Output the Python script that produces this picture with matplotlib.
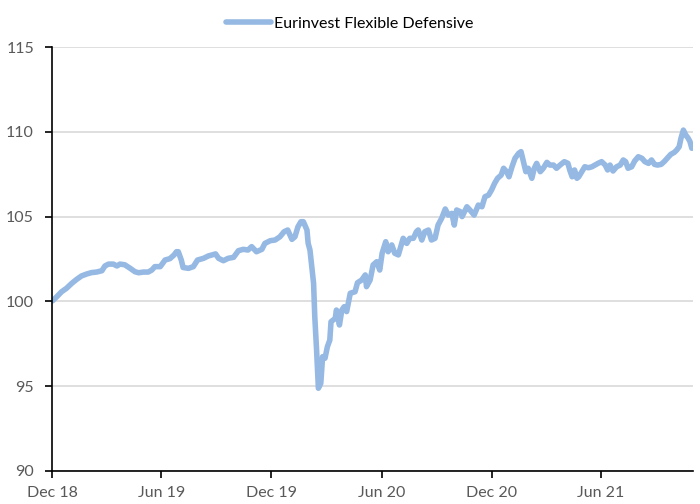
import matplotlib
matplotlib.use('Agg')
import matplotlib.pyplot as plt
import pandas as pd

# days after 1 Dec 2018
days = [1, 8, 16, 24, 33, 41, 49, 58, 66, 74, 83, 88, 94, 102, 108, 113, 121, 130, 138, 144,
        152, 160, 166, 171, 180, 188, 196, 203, 207, 210, 215, 218, 227, 235, 242, 252, 260, 266, 272, 277,
        285, 293, 302, 310, 318, 326, 332, 340, 349, 354, 363, 371, 379, 386, 392, 399, 404, 409, 414, 418,
        424, 426, 429, 432, 435, 437, 440, 443, 447, 450, 454, 458, 462, 464, 471, 473, 478, 482, 486, 490,
        496, 504, 508, 515, 521, 523, 529, 534, 540, 545, 549, 555, 559, 565, 570, 576, 580, 584, 590, 595,
        601, 606, 609, 615, 620, 626, 631, 637, 642, 648, 654, 659, 665, 669, 673, 679, 682, 690, 695, 702,
        709, 715, 720, 726, 731, 736, 741, 747, 751, 756, 760, 765, 770, 776, 780, 784, 788, 792, 798, 802,
        806, 812, 817, 823, 828, 834, 839, 845, 852, 858, 861, 865, 869, 873, 876, 881, 886, 892, 898, 903,
        908, 914, 920, 924, 928, 933, 939, 945, 950, 954, 958, 964, 969, 975, 981, 986, 992, 997, 1002, 1007,
        1013, 1018, 1024, 1029, 1035, 1039, 1043, 1046, 1050, 1054, 1058, 1061, 1064]

nav = [100.04, 100.28, 100.57, 100.77, 101.07, 101.30, 101.50, 101.62, 101.70, 101.73, 101.81, 102.09, 102.20, 102.20, 102.09, 102.20, 102.16, 101.95, 101.75, 101.69,
       101.73, 101.73, 101.85, 102.05, 102.05, 102.44, 102.52, 102.74, 102.93, 102.93, 102.44, 102.00, 101.95, 102.05, 102.44, 102.54, 102.68, 102.74, 102.80, 102.54,
       102.40, 102.54, 102.60, 102.99, 103.07, 103.03, 103.23, 102.93, 103.07, 103.42, 103.58, 103.62, 103.81, 104.11, 104.21, 103.66, 103.81, 104.40, 104.70, 104.70,
       104.21, 103.42, 103.03, 102.05, 101.07, 99.10, 97.13, 94.88, 95.17, 96.74, 96.65, 97.33, 97.72, 98.80, 99.00, 99.49, 98.61, 99.49, 99.69, 99.40,
       100.48, 100.57, 101.10, 101.26, 101.56, 100.87, 101.26, 102.15, 102.34, 101.85, 102.84, 103.52, 102.93, 103.33, 102.84, 102.74, 103.23, 103.72, 103.42, 103.72,
       103.72, 104.11, 104.21, 103.62, 104.11, 104.21, 103.62, 103.72, 104.50, 104.90, 105.45, 105.09, 105.19, 104.50, 105.39, 105.29, 105.00, 105.58, 105.39, 105.09,
       105.68, 105.58, 106.17, 106.27, 106.57, 106.96, 107.26, 107.45, 107.85, 107.65, 107.35, 107.94, 108.44, 108.73, 108.83, 108.24, 107.65, 107.85, 107.26, 107.85,
       108.14, 107.65, 107.85, 108.20, 108.04, 108.04, 107.85, 108.04, 108.24, 108.14, 107.75, 107.35, 107.75, 107.26, 107.35, 107.65, 107.94, 107.88, 107.94, 108.04,
       108.14, 108.24, 108.04, 107.75, 108.04, 107.69, 107.94, 108.04, 108.34, 108.24, 107.85, 107.94, 108.28, 108.53, 108.44, 108.24, 108.14, 108.34, 108.08, 108.04,
       108.08, 108.24, 108.47, 108.67, 108.79, 108.93, 109.12, 109.62, 110.10, 109.81, 109.62, 109.42, 109.03]

tick_dates = ["2018-12-01", "2019-06-01", "2019-12-01", "2020-06-01", "2020-12-01", "2021-06-01"]
tick_labels = ["Dec 18", "Jun 19", "Dec 19", "Jun 20", "Dec 20", "Jun 21"]
y_ticks = [90, 95, 100, 105, 110, 115]

plt.rcParams['font.family'] = ['Lato', 'DejaVu Sans']

start = pd.Timestamp("2018-12-01")
dates = start + pd.to_timedelta(days, unit="D")

fig = plt.figure(figsize=(7, 5.04), dpi=100)
ax = fig.add_axes([0.0743, 0.0655, 0.9157, 0.8412])

ax.plot(dates, nav, color="#95B9E3", lw=4.0, solid_capstyle="round",
        solid_joinstyle="round", label="Eurinvest Flexible Defensive")

ax.set_ylim(90, 115)
ax.set_yticks(y_ticks)
ax.set_xlim(start, pd.Timestamp("2021-11-01"))
ax.set_xticks(pd.to_datetime(tick_dates))
ax.set_xticklabels(tick_labels)

ax.grid(axis="y", color="#D9D9D9", lw=1.2)
ax.set_axisbelow(True)
for s in ["top", "right"]:
    ax.spines[s].set_visible(False)
for s in ["left", "bottom"]:
    ax.spines[s].set_color("black")
    ax.spines[s].set_linewidth(1.2)
ax.tick_params(axis="both", direction="out", length=5, width=1.2, color="black",
               labelcolor="#595959", labelsize=11.5)
ax.tick_params(axis="y", pad=8)
ax.tick_params(axis="x", pad=6)

# legend is centred on the figure, not the axes
fig.legend(loc="upper center", bbox_to_anchor=(0.5, 0.995), frameon=False,
           fontsize=11.5, handlelength=2.8, handletextpad=0.2)

fig.savefig("out.png", dpi=100)
